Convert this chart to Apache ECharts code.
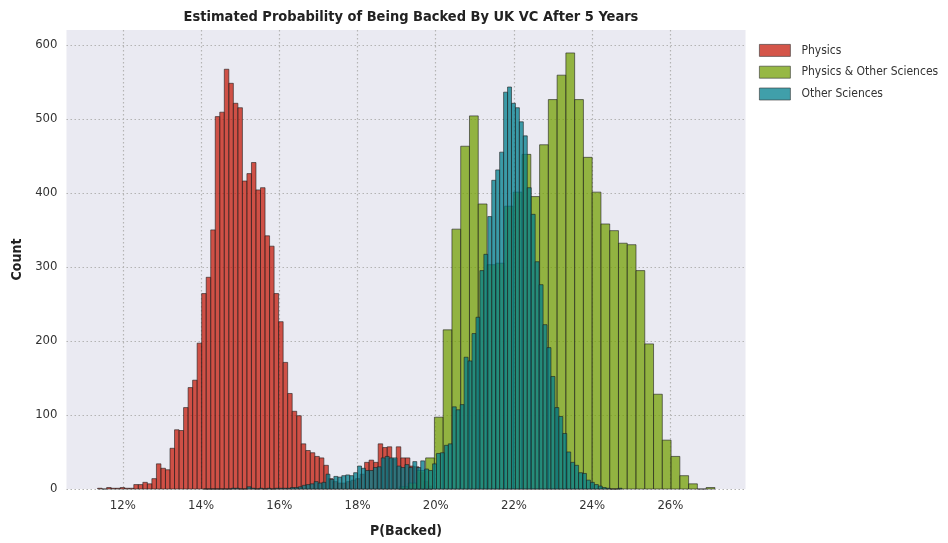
<!DOCTYPE html>
<html>
<head>
<meta charset="utf-8">
<script src="https://cdn.jsdelivr.net/npm/echarts@6/dist/echarts.min.js"></script>
<style>
  html, body { margin: 0; padding: 0; background: #fff; }
  #chart { width: 948px; height: 543px; }
</style>
</head>
<body>
<div id="chart"></div>
<script>
// bin layout (percent units)
const physicsStart = 11.355;
const physicsWidth = 0.1157;
const physicsCounts = [
  1, 0, 2, 1, 1, 2, 1, 1, 6, 6,
  9, 7, 14, 34, 28, 26, 55, 80, 79, 110,
  137, 147, 197, 264, 286, 350, 503, 509, 567, 548,
  521, 515, 416, 426, 441, 404, 407, 342, 328, 264,
  226, 171, 129, 105, 99, 61, 52, 49, 44, 42,
  32, 14, 10, 8, 8, 10, 12, 14, 20, 36,
  39, 36, 61, 56, 57, 40, 57, 42, 42, 31,
  30, 22, 10, 4
];

const bothStart = 19.070;
const bothWidth = 0.2241;
const bothCounts = [
  3, 8, 25, 42, 97, 215, 351, 463, 504, 385,
  303, 305, 382, 401, 452, 395, 465, 526, 559, 589,
  526, 448, 401, 358, 349, 332, 330, 295, 196, 128,
  66, 44, 18, 7, 0, 2
];

const otherStart = 14.067;
const otherWidth = 0.1009;
const otherCounts = [
  0, 0, 0, 0, 0, 0, 0, 1, 1, 0,
  0, 3, 1, 0, 1, 0, 1, 0, 1, 1,
  1, 1, 2, 2, 3, 5, 6, 7, 10, 8,
  9, 20, 13, 17, 16, 18, 19, 18, 22, 31,
  28, 25, 25, 29, 30, 42, 44, 42, 42, 31,
  29, 33, 29, 37, 29, 38, 27, 25, 34, 48,
  49, 59, 61, 111, 107, 114, 178, 173, 210, 232,
  295, 317, 368, 417, 431, 455, 536, 543, 521, 515,
  496, 477, 407, 371, 307, 276, 222, 191, 152, 110,
  98, 75, 50, 36, 32, 22, 21, 12, 9, 6,
  4, 2, 1, 0, 0, 1
];

const xTicks = [12, 14, 16, 18, 20, 22, 24, 26];
const yTicks = [0, 100, 200, 300, 400, 500, 600];

const FONT = '"Liberation Sans Narrow", "DejaVu Sans Condensed", "Roboto", sans-serif';

const chart = echarts.init(document.getElementById('chart'));

// 把计数转成 [左边界, 右边界, 数量]
function toBins(start, width, counts) {
  return counts.map((c, i) => [start + i * width, start + (i + 1) * width, c]);
}

function histSeries(name, fill, bins) {
  return {
    name: name,
    type: 'custom',
    itemStyle: { color: fill, borderColor: 'rgba(40,40,40,0.8)', borderWidth: 0.8 },
    encode: { x: [0, 1], y: 2 },
    data: bins,
    renderItem: (params, api) => {
      const top = api.coord([api.value(0), api.value(2)]);
      const bottom = api.coord([api.value(1), 0]);
      return {
        type: 'rect',
        shape: {
          x: top[0],
          y: top[1],
          width: bottom[0] - top[0],
          height: bottom[1] - top[1]
        },
        style: {
          fill: fill,
          stroke: 'rgba(30,30,30,0.75)',
          lineWidth: 0.8
        }
      };
    }
  };
}

const gridLine = {
  show: true,
  lineStyle: { color: '#b4b4b4', width: 1.2, type: [1.5, 2.5] }
};

chart.setOption({
  backgroundColor: '#ffffff',
  animation: false,
  title: {
    text: 'Estimated Probability of Being Backed By UK VC After 5 Years',
    left: 406,
    top: 5,
    textAlign: 'center',
    textStyle: { fontFamily: FONT, fontSize: 14.5, fontWeight: 'bold', color: '#222' }
  },
  legend: {
    orient: 'vertical',
    left: 754,
    top: 39,
    itemWidth: 31,
    itemHeight: 12,
    itemGap: 9,
    icon: 'rect',
    itemStyle: { borderColor: 'rgba(60,60,60,0.8)', borderWidth: 0.8 },
    textStyle: { fontFamily: FONT, fontSize: 12, color: '#333', padding: [0, 0, 0, 6] },
    data: ['Physics', 'Physics & Other Sciences', 'Other Sciences']
  },
  grid: {
    left: 66.5,
    right: 202.5,
    top: 30,
    bottom: 48,
    show: true,
    backgroundColor: '#eaeaf2',
    borderWidth: 0
  },
  xAxis: {
    type: 'value',
    min: 10.56,
    max: 27.92,
    name: 'P(Backed)',
    nameLocation: 'middle',
    nameGap: 35,
    nameTextStyle: { fontFamily: FONT, fontSize: 14, fontWeight: 'bold', color: '#222' },
    axisLine: { show: false },
    axisTick: { show: false, customValues: xTicks },
    axisLabel: {
      customValues: xTicks,
      margin: 10,
      fontFamily: FONT,
      fontSize: 13,
      color: '#333',
      formatter: (v) => v + '%'
    },
    splitLine: gridLine
  },
  yAxis: {
    type: 'value',
    min: 0,
    max: 620,
    name: 'Count',
    nameLocation: 'middle',
    nameGap: 42,
    nameTextStyle: { fontFamily: FONT, fontSize: 14, fontWeight: 'bold', color: '#222' },
    axisLine: { show: false },
    axisTick: { show: false, customValues: yTicks },
    axisLabel: {
      customValues: yTicks,
      margin: 9,
      fontFamily: FONT,
      fontSize: 13,
      color: '#333'
    },
    splitLine: gridLine
  },
  series: [
    histSeries('Physics', 'rgba(198,28,12,0.75)', toBins(physicsStart, physicsWidth, physicsCounts)),
    histSeries('Physics & Other Sciences', 'rgba(116,160,6,0.75)', toBins(bothStart, bothWidth, bothCounts)),
    histSeries('Other Sciences', 'rgba(0,127,142,0.75)', toBins(otherStart, otherWidth, otherCounts))
  ]
});
</script>
</body>
</html>
